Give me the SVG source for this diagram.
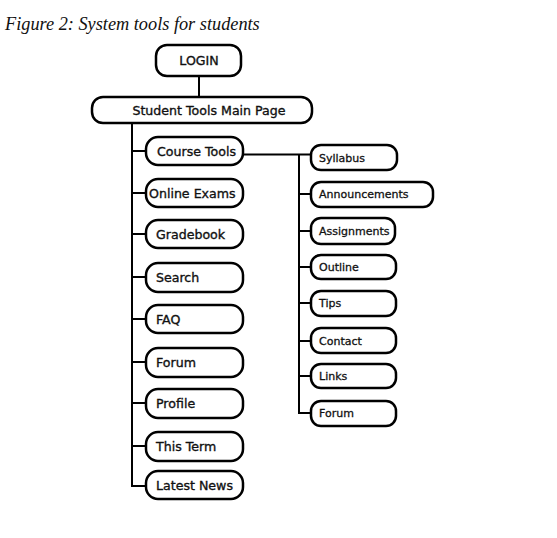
<svg xmlns="http://www.w3.org/2000/svg" width="557" height="538" viewBox="0 0 557 538">
<style>
.box{fill:#fff;stroke:#000;stroke-width:2.5}
.lbl{font-family:"DejaVu Sans",Verdana,sans-serif;font-size:12.6px;fill:#111;stroke:#111;stroke-width:0.35}
.sm{font-family:"DejaVu Sans",Verdana,sans-serif;font-size:11px;fill:#111;stroke:#111;stroke-width:0.3}
.c{fill:none;stroke:#000;stroke-width:2}
</style>
<rect width="557" height="538" fill="#fff"/>
<text x="5" y="30" font-family="Liberation Serif,serif" font-style="italic" font-size="18.3" fill="#111">Figure 2: System tools for students</text>
<g id="connectors">
<path class="c" d="M199,76V97"/>
<path class="c" d="M132,123V486H147"/>
<path class="c" d="M132,151H147M132,193H147M132,234H147M132,277H147M132,319H147M132,362H147M132,403H147M132,446H147"/>
<path class="c" d="M243,154.5H312M299,154.5V413H312"/>
<path class="c" d="M299,194H312M299,231H312M299,267H312M299,303H312M299,341H312M299,376H312"/>
</g>
<g id="login"><rect class="box" x="156" y="45" width="85" height="31" rx="11"/><text class="lbl" x="199" y="65" text-anchor="middle">LOGIN</text></g>
<g id="main"><rect class="box" x="92" y="97" width="220" height="26" rx="11"/><text class="lbl" x="209" y="115" text-anchor="middle">Student Tools Main Page</text></g>
<g id="course-tools"><rect class="box" x="146" y="137" width="97" height="28" rx="12"/><text class="lbl" x="157" y="156">Course Tools</text></g>
<g id="online-exams"><rect class="box" x="146" y="179" width="97" height="28" rx="12"/><text class="lbl" x="149" y="198">Online Exams</text></g>
<g id="gradebook"><rect class="box" x="146" y="220" width="97" height="28" rx="12"/><text class="lbl" x="156" y="239">Gradebook</text></g>
<g id="search"><rect class="box" x="146" y="263" width="97" height="29" rx="12"/><text class="lbl" x="156" y="282">Search</text></g>
<g id="faq"><rect class="box" x="146" y="305" width="97" height="28" rx="12"/><text class="lbl" x="156" y="324">FAQ</text></g>
<g id="forum"><rect class="box" x="146" y="348" width="97" height="29" rx="12"/><text class="lbl" x="156" y="367">Forum</text></g>
<g id="profile"><rect class="box" x="146" y="389" width="97" height="29" rx="12"/><text class="lbl" x="156" y="408">Profile</text></g>
<g id="this-term"><rect class="box" x="146" y="432" width="97" height="29" rx="12"/><text class="lbl" x="156" y="451">This Term</text></g>
<g id="latest-news"><rect class="box" x="146" y="471" width="97" height="28" rx="12"/><text class="lbl" x="156" y="490">Latest News</text></g>
<g id="syllabus"><rect class="box" x="311" y="145" width="86" height="25" rx="10"/><text class="sm" x="319" y="162">Syllabus</text></g>
<g id="announcements"><rect class="box" x="311" y="182" width="122" height="25" rx="10"/><text class="sm" x="319" y="198">Announcements</text></g>
<g id="assignments"><rect class="box" x="311" y="218" width="84" height="26" rx="10"/><text class="sm" x="319" y="235">Assignments</text></g>
<g id="outline"><rect class="box" x="311" y="255" width="85" height="24" rx="10"/><text class="sm" x="319" y="271">Outline</text></g>
<g id="tips"><rect class="box" x="311" y="291" width="85" height="25" rx="10"/><text class="sm" x="319" y="307">Tips</text></g>
<g id="contact"><rect class="box" x="311" y="328" width="85" height="25" rx="10"/><text class="sm" x="319" y="345">Contact</text></g>
<g id="links"><rect class="box" x="311" y="364" width="85" height="24" rx="10"/><text class="sm" x="319" y="380">Links</text></g>
<g id="forum-2"><rect class="box" x="311" y="401" width="85" height="25" rx="10"/><text class="sm" x="319" y="417">Forum</text></g>
</svg>
